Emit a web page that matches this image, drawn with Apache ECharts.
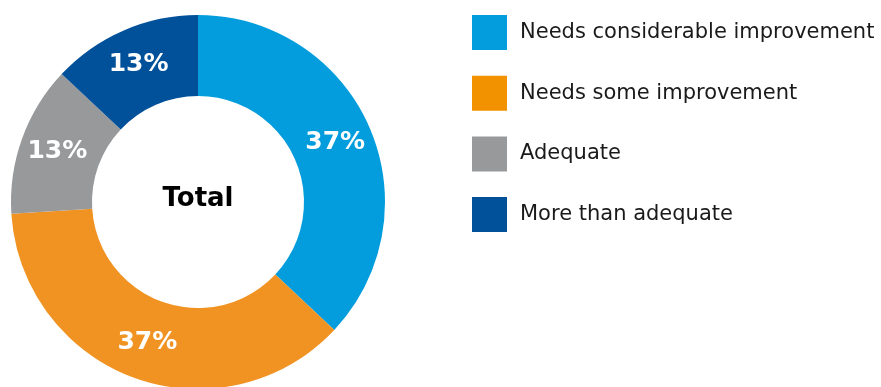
<!DOCTYPE html>
<html>
<head>
<meta charset="utf-8">
<script src="https://cdn.jsdelivr.net/npm/echarts@6/dist/echarts.min.js"></script>
<style>
html,body{margin:0;padding:0;background:#fff;}
#chart{width:881px;height:387px;}
</style>
</head>
<body>
<div id="chart"></div>
<script>
const categories = ["Needs considerable improvement", "Needs some improvement", "Adequate", "More than adequate"];
const values = [37, 37, 13, 13];
const colors = ["#039ddd", "#f19322", "#97999b", "#00509a"];
const centerLabel = "Total";

const chart = echarts.init(document.getElementById('chart'), null, {renderer: 'canvas'});
chart.setOption({
  animation: false,
  backgroundColor: '#ffffff',
  graphic: [{
    type: 'text',
    x: 198, y: 199,
    silent: true,
    style: {
      text: centerLabel,
      align: 'center', verticalAlign: 'middle',
      fontFamily: 'DejaVu Sans', fontWeight: 'bold', fontSize: 26, fill: '#000'
    }
  }],
  legend: {
    orient: 'vertical',
    left: 472, top: 15,
    padding: 0,
    itemWidth: 35, itemHeight: 35, itemGap: 25.7,
    icon: 'rect',
    selectedMode: false,
    textStyle: {fontFamily: 'DejaVu Sans', fontSize: 21, color: '#1a1a1a', padding: [0, 0, 0, 8]},
    data: categories.map((c, i) => ({name: c, itemStyle: {color: i === 1 ? '#f39200' : colors[i]}}))
  },
  series: [{
    type: 'pie',
    center: [198, 202],
    radius: [106, 187],
    startAngle: 90,
    clockwise: true,
    avoidLabelOverlap: false,
    silent: true,
    itemStyle: {borderWidth: 0},
    label: {
      position: 'inside',
      formatter: '{c}%',
      color: '#fff',
      fontFamily: 'DejaVu Sans',
      fontWeight: 'bold',
      fontSize: 25
    },
    labelLine: {show: false},
    data: categories.map((c, i) => ({name: c, value: values[i], itemStyle: {color: colors[i]}}))
  }]
});
</script>
</body>
</html>
